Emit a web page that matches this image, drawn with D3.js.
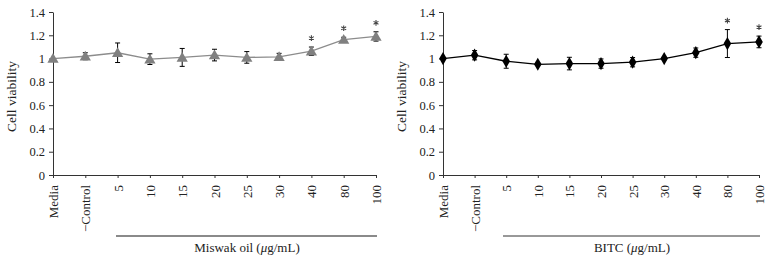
<!DOCTYPE html>
<head>
    <meta charset="utf-8">
    <title>Cell viability</title>
    <style>
        body { margin: 0; background: #fff; }
        svg { display: block; }
        text { font-family: "Liberation Serif", "DejaVu Serif", serif; fill: #222; }
        .axis path, .axis line { stroke: #333; }
    </style>
</head>
<body>

<svg width="772" height="265"></svg>

<script src="https://d3js.org/d3.v7.min.js"></script>

<script>

// categories on the x axis (same for both panels)
var categories = ['Media', '\u2212Control', '5', '10', '15', '20', '25', '30', '40', '80', '100'];
var yTicks = [0, 0.2, 0.4, 0.6, 0.8, 1, 1.2, 1.4];

// Miswak oil panel
var miswakMean = [1.00, 1.02, 1.05, 0.995, 1.01, 1.03, 1.01, 1.015, 1.063, 1.163, 1.19];
var miswakErr  = [0, 0.03, 0.084, 0.046, 0.077, 0.05, 0.05, 0.03, 0.036, 0.02, 0.04];
var miswakStar = ['40', '80', '100'];

// BITC panel
var bitcMean = [1.00, 1.029, 0.977, 0.951, 0.957, 0.957, 0.969, 1.00, 1.051, 1.129, 1.143];
var bitcErr  = [0, 0.04, 0.06, 0.01, 0.054, 0.04, 0.04, 0.01, 0.04, 0.12, 0.05];
var bitcStar = ['80', '100'];

var svg = d3.select('svg');

var panels = [
    { x0: 53, x1: 376, mean: miswakMean, err: miswakErr, stars: miswakStar,
      label: 'Miswak oil', lineStart: 116, lineColor: '#8a8a8a', lineW: 2,
      pathColor: '#8c8c8c', marker: 'triangle', markerColor: '#808080' },
    { x0: 443, x1: 759, mean: bitcMean, err: bitcErr, stars: bitcStar,
      label: 'BITC', lineStart: 503, lineColor: '#333', lineW: 1,
      pathColor: '#000', marker: 'diamond', markerColor: '#000' }
];

var y = d3.scaleLinear().domain([0, 1.4]).range([175, 12]);

// asterisk drawn as a shape (the text glyph picked up colour fringes)
var starShape = d3.symbolAsterisk || d3.symbolCross;

panels.forEach(p => {
    var g = svg.append('g');

    var x = d3.scalePoint().domain(categories).range([p.x0, p.x1]);

    var rows = categories.map((c, i) => ({ cat: c, v: p.mean[i], e: p.err[i] }));

    // y axis
    g.append('g')
        .attr('class', 'axis')
        .attr('transform', `translate(${p.x0},0)`)
        .call(d3.axisLeft(y).tickValues(yTicks).tickSize(4).tickSizeOuter(0)
            .tickFormat(d => String(+d.toFixed(1))))
        .call(a => a.selectAll('text').attr('font-size', 12.5).attr('x', -8)
            .style('font-family', '"Liberation Serif", serif').attr('fill', '#222'));

    // x axis with rotated labels
    g.append('g')
        .attr('class', 'axis')
        .attr('transform', `translate(0,${y(0)})`)
        .call(d3.axisBottom(x).tickSize(3).tickSizeOuter(0))
        .call(a => a.selectAll('text')
            .attr('font-size', 13)
            .style('font-family', '"Liberation Serif", serif')
            .attr('fill', '#222')
            .attr('text-anchor', 'end')
            .attr('transform', 'rotate(-90)')
            .attr('x', -10).attr('y', 0).attr('dy', '0.35em'));

    // y axis title
    g.append('text')
        .attr('transform', `translate(${p.x0 - 37},${(y(0) + y(1.4)) / 2 + 3}) rotate(-90)`)
        .attr('text-anchor', 'middle')
        .attr('font-size', 13.5)
        .text('Cell viability');

    // bracket line under the concentrations
    g.append('line')
        .attr('x1', p.lineStart).attr('x2', p.x1 + 1)
        .attr('y1', 236).attr('y2', 236)
        .attr('stroke', p.lineColor).attr('stroke-width', p.lineW);

    var lbl = g.append('text')
        .attr('x', (p.lineStart + p.x1) / 2 + 1)
        .attr('y', 252)
        .attr('text-anchor', 'middle')
        .attr('font-size', 13);
    lbl.append('tspan').text(p.label + ' (');
    lbl.append('tspan').attr('font-style', 'italic').text('\u03bc');
    lbl.append('tspan').text('g/mL)');

    // connecting line
    g.append('path')
        .datum(rows)
        .attr('fill', 'none')
        .attr('stroke', p.pathColor)
        .attr('stroke-width', 1.3)
        .attr('d', d3.line().x(d => x(d.cat)).y(d => y(d.v)));

    // error bars
    var eb = g.selectAll('.err')
        .data(rows.filter(d => d.e > 0))
        .enter().append('g')
            .attr('stroke', '#000')
            .attr('stroke-width', 1);
    eb.append('line')
        .attr('x1', d => x(d.cat)).attr('x2', d => x(d.cat))
        .attr('y1', d => y(d.v + d.e)).attr('y2', d => y(d.v - d.e));
    eb.append('line')
        .attr('x1', d => x(d.cat) - 2.5).attr('x2', d => x(d.cat) + 2.5)
        .attr('y1', d => y(d.v + d.e)).attr('y2', d => y(d.v + d.e));
    eb.append('line')
        .attr('x1', d => x(d.cat) - 2.5).attr('x2', d => x(d.cat) + 2.5)
        .attr('y1', d => y(d.v - d.e)).attr('y2', d => y(d.v - d.e));

    // markers
    var sym = p.marker === 'triangle'
        ? d3.symbol().type(d3.symbolTriangle).size(55)
        : d3.symbol().type(d3.symbolDiamond).size(50);
    g.selectAll('.mark')
        .data(rows)
        .enter().append('path')
            .attr('transform', d => `translate(${x(d.cat)},${y(d.v) + (p.marker === 'triangle' ? 1 : 0)})`)
            .attr('d', sym)
            .attr('fill', p.markerColor);

    // significance stars
    g.selectAll('.star')
        .data(rows.filter(d => p.stars.includes(d.cat)))
        .enter().append('path')
            .attr('transform', d => `translate(${x(d.cat)},${y(d.v + d.e) - 9})`)
            .attr('d', d3.symbol().type(starShape).size(22))
            .attr('fill', 'none')
            .attr('stroke', '#444')
            .attr('stroke-width', 1.1);
});

</script>

</body>
